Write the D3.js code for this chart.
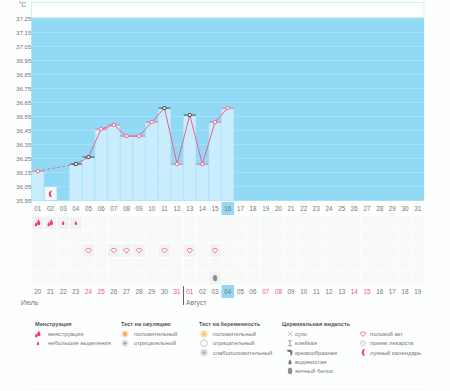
<!DOCTYPE html>
<html><head><meta charset="utf-8">
<script src="https://cdn.jsdelivr.net/npm/d3@7"></script>
<style>html,body{margin:0;padding:0;background:#fdfefe}svg{display:block}text{font-family:"Liberation Sans",sans-serif}</style>
</head><body><svg id="c" width="450" height="391"></svg>
<script>
const days = d3.range(1,32).map(d=>String(d).padStart(2,"0"));
const calendarDates = ["20","21","22","23","24","25","26","27","28","29","30","31","01","02","03","04","05","06","07","08","09","10","11","12","13","14","15","16","17","18","19"];
const redDates = [4,5,11,12,18,19,25,26];
const tempTicks = [37.25,37.15,37.05,36.95,36.85,36.75,36.65,36.55,36.45,36.35,36.25,36.15,36.05,35.95];
const tempDays = ["01","04","05","06","07","08","09","10","11","12","13","14","15","16"];
const tempValues = [36.16,36.21,36.26,36.46,36.49,36.41,36.41,36.51,36.61,36.21,36.56,36.21,36.51,36.61];
const darkDays = ["04","05","11","13"];
const heavyDays = ["01","02"];
const lightDays = ["03","04"];
const sexDays = ["05","07","08","09","11","13","15"];
const eggWhiteDays = ["15"];
const moonDay = "02";
const currentDay = "16";
const rows = [0,1,2,3,4];
const legendGroups = [
 {x:35,ix:38,tx:48,title:"Менструация",items:[["heavy","менструация"],["drop","небольшие выделения"]]},
 {x:121,ix:125,tx:134,title:"Тест на овуляцию",items:[["ovPos","положительный"],["ovNeg","отрицательный"]]},
 {x:199,ix:204,tx:212.7,title:"Тест на беременность",items:[["prPos","положительный"],["prNeg","отрицательный"],["prWeak","слабоположительный"]]},
 {x:282,ix:290,tx:295,title:"Цервикальная жидкость",items:[["dry","сухо"],["sticky","клейкая"],["creamy","кремообразная"],["watery","водянистая"],["egg","яичный белок"]]},
 {x:364,ix:363,tx:370,title:"",items:[["heart","половой акт"],["pill","прием лекарств"],["moon","лунный календарь"]]}
];

const svg = d3.select("#c");
const x = d3.scaleBand().domain(days).range([31.5,424]);
const y = d3.scaleLinear().domain([35.95,37.25]).range([200.5,18.5]);
const pink="#ec5f8d", grey="#777";

svg.append("rect").attr("x",31.5).attr("y",2.5).attr("width",392.5).attr("height",198).attr("fill","#fff").attr("stroke","#cfeefb");
svg.append("rect").attr("x",x.range()[0]).attr("y",y(37.25)-1).attr("width",392.5).attr("height",y(35.95)-y(37.25)+1).attr("fill","#92d9f6");
svg.append("g").selectAll("line").data(tempTicks).join("line")
 .attr("x1",31.5).attr("x2",424).attr("y1",d=>y(d)).attr("y2",d=>y(d)).attr("stroke","#a7e1f8");
const barG = svg.append("g");
barG.selectAll("rect").data(tempDays).join("rect")
 .attr("x",d=>x(d)+0.3).attr("width",x.bandwidth()-0.6)
 .attr("y",(d,i)=>y(tempValues[i])).attr("height",(d,i)=>y(35.95)-y(tempValues[i]))
 .attr("fill","#c9edfd").attr("stroke","#b6e6fb").attr("stroke-width",.6);
svg.append("rect").attr("x",x(moonDay)+.5).attr("y",187).attr("width",12).attr("height",13).attr("fill","#f4f8f9");
const moonPath = (cx,cy,r)=>`M${cx+r*.5} ${cy-r}A${r} ${r} 0 1 0 ${cx+r*.5} ${cy+r}A${r*1.4} ${r*1.4} 0 0 1 ${cx+r*.5} ${cy-r}Z`;
svg.append("path").attr("d",moonPath(x(moonDay)+x.bandwidth()/2,194,3.2)).attr("fill","#f0376f");

const yAxis = d3.axisLeft(y).tickValues(tempTicks).tickSize(0).tickPadding(0).tickFormat(d3.format(".2f"));
const ag = svg.append("g").attr("transform","translate(31.5,0)").call(yAxis);
ag.select(".domain").remove();
ag.selectAll("text").attr("font-size",6.2).attr("fill",grey).attr("font-family","Liberation Sans");
svg.append("text").attr("x",19).attr("y",7).attr("font-size",6.5).attr("fill",grey).text("°C");

const cx = d=>x(d)+x.bandwidth()/2;
const pts = tempDays.map((d,i)=>({d,v:tempValues[i]}));
const line = d3.line().x(p=>cx(p.d)).y(p=>y(p.v));
svg.append("path").attr("d",line(pts.slice(0,2))).attr("fill","none").attr("stroke",pink).attr("stroke-width",1).attr("stroke-dasharray","2.5 2.5");
svg.append("path").attr("d",line(pts.slice(1))).attr("fill","none").attr("stroke",pink).attr("stroke-width",1);
const mk = svg.append("g").selectAll("g").data(pts).join("g").attr("transform",p=>`translate(${cx(p.d)},${y(p.v)})`);
mk.append("line").attr("x1",-6).attr("x2",6).attr("stroke",p=>darkDays.includes(p.d)?"#333":pink).attr("stroke-width",.9);
mk.append("rect").attr("x",-1.5).attr("y",-1.5).attr("width",3).attr("height",3).attr("rx",.6)
 .attr("fill","#fff").attr("stroke",p=>darkDays.includes(p.d)?"#333":pink).attr("stroke-width",.9);

const labels=(arr,yy,color)=>svg.append("g").selectAll("text").data(arr).join("text")
 .attr("x",(d,i)=>cx(days[i])).attr("y",yy).attr("text-anchor","middle").attr("font-size",6.3).attr("fill",color);
svg.append("rect").attr("x",x(currentDay)).attr("y",202).attr("width",x.bandwidth()).attr("height",13).attr("fill","#92d9f6");
svg.append("rect").attr("x",x(currentDay)).attr("y",285).attr("width",x.bandwidth()).attr("height",13).attr("fill","#92d9f6");
labels(days,210.5,grey).text(d=>d);
labels(calendarDates,293.5,grey).text(d=>d).attr("fill",(d,i)=>redDates.includes(i)?"#f2548a":grey);

const ry = d3.scaleBand().domain(rows).range([216,285]);
const cells = rows.flatMap(r=>days.map(d=>({r,d})));
svg.append("g").selectAll("rect").data(cells).join("rect")
 .attr("x",c=>x(c.d)+.5).attr("y",c=>ry(c.r)+.5).attr("width",x.bandwidth()-1).attr("height",ry.bandwidth()-1)
 .attr("fill",c=>{
   const active=(c.r===0&&(heavyDays.includes(c.d)||lightDays.includes(c.d)))||(c.r===2&&sexDays.includes(c.d))||(c.r===4&&eggWhiteDays.includes(c.d));
   return active?"#f1f2f2":"#f8f9f9";});

const dropD="M0 -3C1 -1 1.7 0 1.7 1.2A1.7 1.7 0 0 1 -1.7 1.2C-1.7 0 -1 -1 0 -3Z";
const sym = {
 drop:(g)=>g.append("path").attr("transform","scale(.7)").attr("d",dropD).attr("fill","#f0376f"),
 heavy:(g)=>{[[.8,-.6,1],[-1.8,1.3,.7]].forEach(o=>g.append("path").attr("transform",`translate(${o[0]},${o[1]}) scale(${o[2]})`).attr("d",dropD).attr("fill","#f0376f"));},
 heart:(g)=>g.append("path").attr("transform","scale(.8)").attr("d","M0 3.2L-3 -.2A1.8 1.8 0 0 1 0 -2A1.8 1.8 0 0 1 3 -.2Z").attr("fill","#fff").attr("stroke","#ef6c95").attr("stroke-width",1.2),
 egg:(g)=>g.append("ellipse").attr("rx",2.2).attr("ry",3.2).attr("fill","#8f8f8f"),
 moon:(g)=>g.append("path").attr("d",moonPath(.5,0,3.4)).attr("fill","#f0376f"),
 ovPos:(g)=>{g.append("circle").attr("r",3.7).attr("fill","#fbe3b8");g.append("circle").attr("r",2).attr("fill","#f5b04f");},
 ovNeg:(g)=>{g.append("circle").attr("r",3.7).attr("fill","#e9e9e9");g.append("circle").attr("r",1.8).attr("fill","#aaa");},
 prPos:(g)=>{g.append("circle").attr("r",3.7).attr("fill","#fbdfa8");g.append("circle").attr("r",1.6).attr("fill","#f5c26b");},
 prNeg:(g)=>g.append("circle").attr("r",3.4).attr("fill","#fbfbfb").attr("stroke","#ccc"),
 prWeak:(g)=>{g.append("circle").attr("r",3.7).attr("fill","#ddd");g.append("circle").attr("r",1.5).attr("fill","#aaa");},
 dry:(g)=>g.append("path").attr("d","M-2 -2L2 2M2 -2L-2 2").attr("stroke","#aaa").attr("stroke-width",.7),
 sticky:(g)=>g.append("path").attr("d","M-1.8 -2.5H1.8M-1.8 2.5H1.8M0 -2.5V2.5").attr("stroke","#777").attr("fill","none").attr("stroke-width",.7),
 creamy:(g)=>g.append("path").attr("d","M-3 -2.5C0 -4 3 -2.5 2.5 .5C2.2 2.5 1 3.5 .5 3C0 2 1 0 -.5 -.5C-2 -.5 -3 -1 -3 -2.5Z").attr("fill","#777"),
 watery:(g)=>g.append("path").attr("transform","scale(.8)").attr("d","M0 -3C1 -1 2 0 2 1.5A2 2 0 0 1 -2 1.5C-2 0 -1 -1 0 -3Z").attr("fill","#777"),
 pill:(g)=>{g.append("circle").attr("r",3.3).attr("fill","#e3e3e3");g.append("path").attr("d","M-2 2L2 -2").attr("stroke","#fff");}
};
const place=(name,px,py)=>{const g=svg.append("g").attr("transform",`translate(${px},${py})`);sym[name](g);};
const mid=r=>ry(r)+ry.bandwidth()/2;
heavyDays.forEach(d=>place("heavy",cx(d),mid(0)));
lightDays.forEach(d=>place("drop",cx(d),mid(0)));
sexDays.forEach(d=>place("heart",cx(d),mid(2)));
eggWhiteDays.forEach(d=>place("egg",cx(d),mid(4)));

svg.append("text").attr("x",21).attr("y",304.5).attr("font-size",6.8).attr("fill",grey).text("Июль");
svg.append("text").attr("x",186).attr("y",304.5).attr("font-size",6.8).attr("fill",grey).text("Август");
svg.append("line").attr("x1",183.5).attr("x2",183.5).attr("y1",286).attr("y2",305).attr("stroke","#666");
svg.append("line").attr("x1",31).attr("x2",424).attr("y1",389.5).attr("y2",389.5).attr("stroke","#eee").attr("stroke-dasharray","1 1");

legendGroups.forEach(gr=>{
  if(gr.title) svg.append("text").attr("x",gr.x).attr("y",326).attr("font-size",5.6).attr("font-weight","bold").attr("fill","#555").text(gr.title);
  gr.items.forEach((it,i)=>{
    const yy=334+i*9.25;
    place(it[0],gr.ix,yy);
    svg.append("text").attr("x",gr.tx).attr("y",yy+2).attr("font-size",5.9).attr("fill","#777").text(it[1]);
  });
});
</script></body></html>
